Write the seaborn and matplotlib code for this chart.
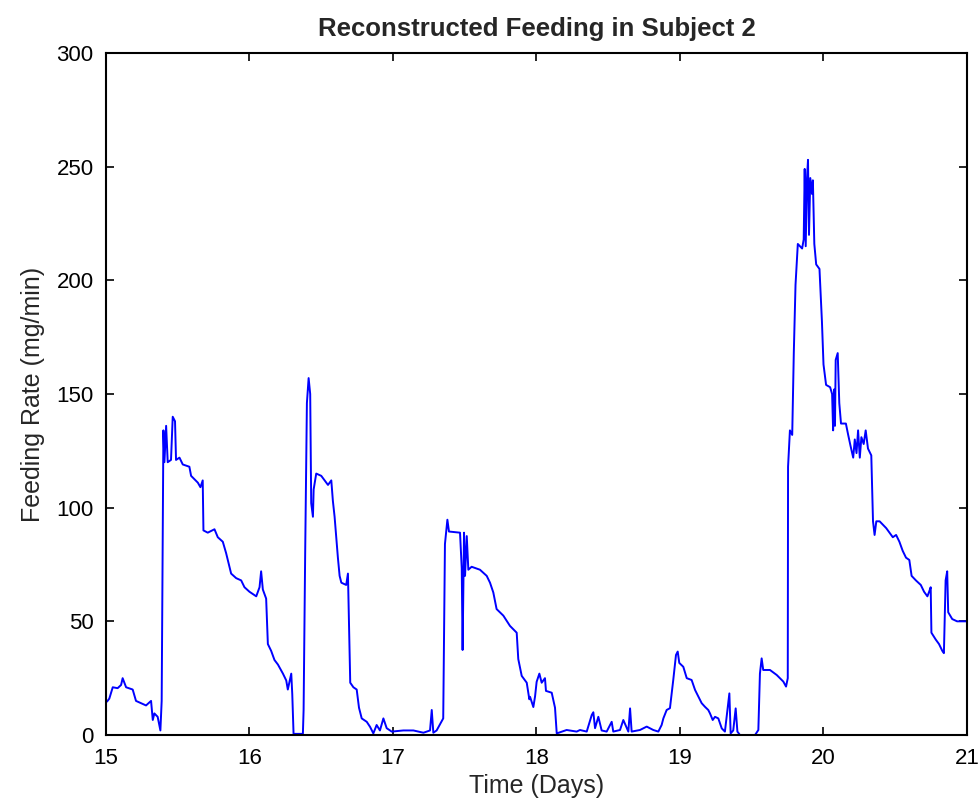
import matplotlib
matplotlib.use("Agg")
import matplotlib.pyplot as plt
import seaborn as sns
import pandas as pd

# Reconstructed feeding rate, subject 2 (time in days, rate in mg/min)
time_days = [
    15.0, 15.007, 15.023, 15.047, 15.081, 15.105, 15.116, 15.14, 15.186, 15.209,
    15.244, 15.279, 15.314, 15.326, 15.337, 15.36, 15.379, 15.388, 15.40, 15.407,
    15.419, 15.43, 15.453, 15.465, 15.481, 15.488, 15.512, 15.535, 15.581, 15.593,
    15.64, 15.658, 15.674, 15.679, 15.709, 15.756, 15.779, 15.814, 15.837, 15.86,
    15.872, 15.907, 15.942, 15.965, 16.0, 16.047, 16.07, 16.081, 16.093, 16.116,
    16.128, 16.151, 16.174, 16.198, 16.233, 16.256, 16.267, 16.291, 16.298, 16.307,
    16.372, 16.377, 16.388, 16.40, 16.412, 16.423, 16.43, 16.442, 16.447, 16.465,
    16.5, 16.547, 16.57, 16.581, 16.593, 16.616, 16.628, 16.64, 16.674, 16.686,
    16.702, 16.724, 16.747, 16.763, 16.782, 16.817, 16.84, 16.863, 16.886, 16.909,
    16.933, 16.956, 16.991, 17.072, 17.142, 17.212, 17.258, 17.27, 17.281, 17.304,
    17.35, 17.362, 17.379, 17.39, 17.467, 17.479, 17.485, 17.495, 17.502, 17.514,
    17.525, 17.548, 17.606, 17.653, 17.676, 17.699, 17.722, 17.769, 17.815, 17.862,
    17.873, 17.897, 17.932, 17.95, 17.955, 17.978, 17.99, 18.001, 18.02, 18.036,
    18.059, 18.066, 18.106, 18.129, 18.141, 18.21, 18.28, 18.303, 18.35, 18.385,
    18.396, 18.408, 18.431, 18.454, 18.489, 18.524, 18.535, 18.582, 18.605, 18.64,
    18.652, 18.663, 18.721, 18.768, 18.814, 18.849, 18.872, 18.884, 18.907, 18.93,
    18.953, 18.972, 18.984, 18.995, 19.023, 19.047, 19.081, 19.105, 19.128, 19.151,
    19.174, 19.197, 19.209, 19.228, 19.244, 19.267, 19.291, 19.313, 19.344, 19.353,
    19.371, 19.388, 19.40, 19.418, 19.523, 19.546, 19.557, 19.569, 19.58, 19.627,
    19.674, 19.72, 19.739, 19.751, 19.753, 19.766, 19.782, 19.793, 19.805, 19.821,
    19.851, 19.862, 19.869, 19.876, 19.885, 19.892, 19.899, 19.908, 19.92, 19.926,
    19.936, 19.949, 19.972, 19.989, 20.0, 20.018, 20.046, 20.06, 20.067, 20.074,
    20.08, 20.085, 20.099, 20.11, 20.122, 20.156, 20.172, 20.189, 20.207, 20.218,
    20.23, 20.241, 20.253, 20.264, 20.28, 20.294, 20.31, 20.333, 20.345, 20.356,
    20.368, 20.391, 20.437, 20.483, 20.506, 20.529, 20.552, 20.575, 20.598, 20.614,
    20.644, 20.678, 20.701, 20.724, 20.736, 20.747, 20.752, 20.782, 20.805, 20.828,
    20.839, 20.851, 20.862, 20.869, 20.897, 20.931, 21.0,
]

feeding_rate = [
    15, 14.7, 16, 21, 20.6, 22, 25, 21, 20, 15,
    14, 13, 15, 6.6, 9.5, 8, 2, 15, 134, 120,
    136, 120, 121, 140, 138, 121, 122, 119, 118, 114,
    111, 109, 112, 90, 89, 90.5, 87, 85, 80, 74,
    71, 69, 68, 65, 63, 61, 65, 72, 64, 60,
    40, 37, 33, 31, 27, 24, 20, 27, 18, 0.5,
    0.5, 11, 80, 146, 157, 150, 102, 96, 108, 115,
    114, 110, 112, 103, 96, 78, 70, 67, 66, 71,
    23, 21, 20, 12, 7.3, 5.8, 3.6, 0.7, 4.4, 2,
    7.3, 3, 1.5, 2, 2, 1, 2, 11, 1, 2,
    7.3, 84, 94.7, 89.5, 89, 73.4, 37.4, 89, 70, 87.5,
    72.7, 74, 72.7, 70, 67, 62.7, 55.4, 52.5, 48, 45,
    33.4, 26, 23, 15.7, 16.8, 12.3, 17, 23.4, 27, 23,
    25, 19.4, 18.6, 12, 0.7, 2.2, 1.5, 2.2, 1.5, 8.8,
    10, 3, 8, 2, 1.5, 5.8, 1.5, 2.2, 6.6, 1.5,
    11.7, 1.5, 2.2, 3.7, 2.2, 1.5, 4.4, 7.3, 11, 11.8,
    24.2, 35.2, 36.7, 31.7, 30, 25, 24.2, 19.8, 16.9, 14,
    12.4, 11, 9.5, 6.6, 8, 7.3, 2.9, 1.5, 18.3, 0.7,
    2, 11.7, 1.5, 0, 0, 2.2, 27, 33.7, 28.6, 28.6,
    26.4, 23.5, 21.3, 25, 118, 134, 132, 168, 198, 216,
    214, 218, 249, 215, 245, 253, 220, 245, 238, 244,
    216, 207, 205, 182, 163, 154, 153, 150, 134, 152,
    136, 165, 168, 146, 137, 137, 132, 127, 122, 130,
    124, 134, 122, 131, 128, 134, 126, 123, 94, 88,
    94, 94, 91, 87, 88, 85, 81, 78, 77, 70,
    68, 66, 63, 61, 63, 65, 45, 42, 40, 37,
    36, 68, 72, 54, 51, 50, 50,
]

x_ticks = [15, 16, 17, 18, 19, 20, 21]
y_ticks = [0, 50, 100, 150, 200, 250, 300]

sns.set_style("ticks")
plt.rcParams["font.family"] = ["Liberation Sans", "DejaVu Sans"]
plt.rcParams["xtick.direction"] = "in"
plt.rcParams["ytick.direction"] = "in"

df = pd.DataFrame({"Time (Days)": time_days, "Feeding Rate (mg/min)": feeding_rate})

fig = plt.figure(figsize=(9.8, 8.06), dpi=100, facecolor="white")
ax = fig.add_axes([106 / 980, 1 - 735 / 806, (967 - 106) / 980, (735 - 53) / 806])

sns.lineplot(data=df, x="Time (Days)", y="Feeding Rate (mg/min)", ax=ax,
             estimator=None, sort=False, color="#0000FF", linewidth=1.4)

ax.set_xlim(15, 21)
ax.set_ylim(0, 300)
ax.set_xticks(x_ticks)
ax.set_yticks(y_ticks)
ax.tick_params(axis="both", which="major", direction="in", length=6, width=1.2,
               top=True, right=True, labelsize=16, color="black", labelcolor="black")
ax.tick_params(axis="x", pad=9)
ax.tick_params(axis="y", pad=9)
for side in ["top", "right", "bottom", "left"]:
    ax.spines[side].set_visible(True)
    ax.spines[side].set_color("black")
    ax.spines[side].set_linewidth(1.5)

ax.set_xlabel("Time (Days)", fontsize=18, labelpad=4)
ax.set_ylabel("Feeding Rate (mg/min)", fontsize=18, labelpad=8)
ax.set_title("Reconstructed Feeding in Subject 2", fontsize=18.5, fontweight="bold", pad=12)
ax.set_facecolor("white")

fig.savefig("out.png", dpi=100, facecolor="white")
